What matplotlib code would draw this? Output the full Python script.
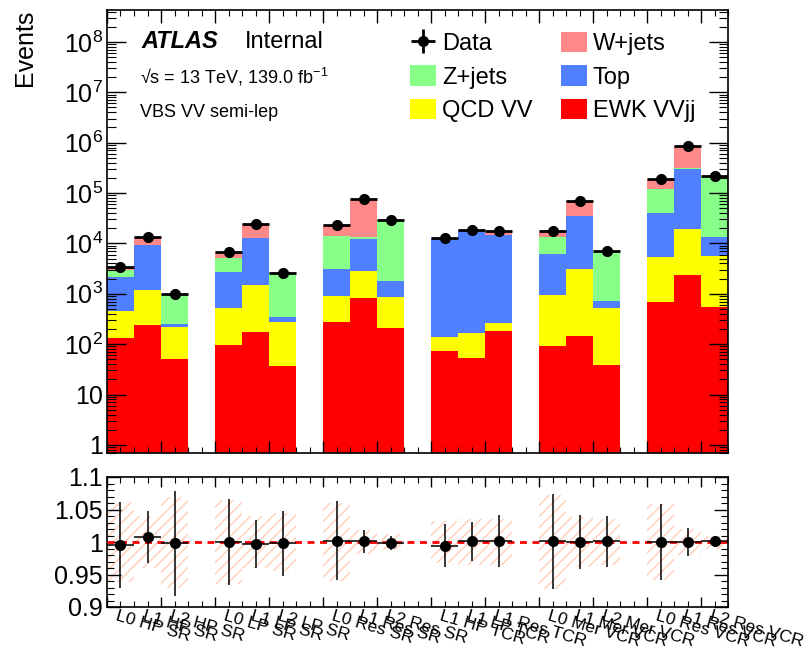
import numpy as np
import matplotlib
matplotlib.use("Agg")
import matplotlib.pyplot as plt
from matplotlib.ticker import FixedLocator, FuncFormatter, MultipleLocator, LogLocator, NullFormatter
from matplotlib.patches import Patch
import matplotlib.transforms as mtransforms

plt.rcParams['font.family'] = ['Liberation Sans', 'DejaVu Sans']
plt.rcParams['mathtext.fontset'] = 'custom'
plt.rcParams['mathtext.rm'] = 'Liberation Sans'
plt.rcParams['mathtext.it'] = 'Liberation Sans:italic'
plt.rcParams['hatch.linewidth'] = 1.0

# bin labels, '' = empty spacer bin
labels = ["L0 HP SR", "L1 HP SR", "L2 HP SR", "",
          "L0 LP SR", "L1 LP SR", "L2 LP SR", "",
          "L0 Res SR", "L1 Res SR", "L2 Res SR", "",
          "L1 HP TCR", "L1 LP TCR", "L1 Res TCR", "",
          "L0 Mer VCR", "L1 Mer VCR", "L2 Mer VCR", "",
          "L0 Res VCR", "L1 Res VCR", "L2 Res VCR"]

# yields per filled bin
ewk_vvjj = [133, 240, 50, 96, 173, 37, 280, 840, 212, 74, 52, 180, 93, 145, 39, 700, 2360, 540]
qcd_vv = [322, 940, 172, 429, 1317, 243, 630, 1990, 663, 67, 112, 88, 857, 2925, 491, 4670, 16640, 5090]
top = [1695, 8120, 28, 2225, 11510, 72, 2190, 9470, 945, 12659, 18036, 14632, 5350, 31930, 200, 34630, 281000, 7970]
z_jets = [820, 100, 750, 2450, 50, 2298, 10900, 1300, 27480, 50, 50, 50, 6900, 100, 6220, 80000, 10000, 201400]
w_jets = [450, 3700, 5, 1700, 11050, 10, 9200, 62400, 200, 50, 50, 2350, 4600, 33900, 10, 70000, 560000, 5000]
data = [3400, 13200, 1000, 6900, 24000, 2640, 23300, 76000, 29400, 12800, 18300, 17300, 17800, 69000, 6950, 190000, 870000, 220000]

ratio = [0.995, 1.007, 0.998, 1.000, 0.997, 0.998, 1.002, 1.001, 0.998,
         0.994, 1.0015, 1.001, 1.001, 1.000, 1.001, 1.000, 1.000, 1.001]
ratio_err = [0.066, 0.040, 0.081, 0.066, 0.037, 0.050, 0.061, 0.018, 0.011,
             0.033, 0.030, 0.040, 0.073, 0.041, 0.039, 0.059, 0.022, 0.009]
band = [0.062, 0.040, 0.070, 0.065, 0.040, 0.045, 0.060, 0.018, 0.012,
        0.033, 0.035, 0.035, 0.073, 0.038, 0.036, 0.058, 0.020, 0.010]

procs = [("EWK VVjj", ewk_vvjj, "#ff0000"),
         ("QCD VV", qcd_vv, "#ffff00"),
         ("Top", top, "#5080ff"),
         ("Z+jets", z_jets, "#88ff88"),
         ("W+jets", w_jets, "#ff8888")]

nbins = len(labels)
filled = [i for i, l in enumerate(labels) if l]
xc = np.array(filled) + 0.5

W, H = 810, 653
fig = plt.figure(figsize=(W / 100, H / 100), dpi=100)
ax = fig.add_axes([107 / W, 1 - 453 / H, 621 / W, 443 / H])
axr = fig.add_axes([107 / W, 1 - 607 / H, 621 / W, 130 / H])

# stacked histogram
bottom = np.zeros(len(filled))
for name, vals, col in procs:
    vals = np.array(vals, dtype=float)
    ax.bar(xc, vals, width=1.0, bottom=bottom, color=col, linewidth=0)
    bottom += vals

data = np.array(data, dtype=float)
dat = ax.errorbar(xc, data, xerr=0.5, yerr=np.sqrt(data), fmt='o', color='black',
                  ms=7, elinewidth=2.0, capsize=0, zorder=5)

ax.set_yscale('log')
ax.set_xlim(0, nbins)
ax.set_ylim(0.69, 4.3e8)
ax.yaxis.set_major_locator(FixedLocator([10.0 ** k for k in range(0, 9)]))


def fmt_log(v, pos):
    k = int(round(np.log10(v)))
    if k == 0:
        return "1"
    if k == 1:
        return "10"
    return r"$10^{%d}$" % k


ax.yaxis.set_major_formatter(FuncFormatter(fmt_log))
ax.yaxis.set_minor_locator(LogLocator(base=10, subs=np.arange(2, 10), numticks=20))
ax.yaxis.set_minor_formatter(NullFormatter())
ax.xaxis.set_major_locator(MultipleLocator(2))
ax.xaxis.set_minor_locator(MultipleLocator(0.5))
ax.tick_params(which='both', direction='in', top=True, right=True, labelbottom=False)
ax.tick_params(axis='y', which='major', length=13.5, width=1, labelsize=18, pad=3)
ax.tick_params(axis='y', which='minor', length=6.5, width=0.8)
ax.tick_params(axis='x', which='major', length=9, width=1)
ax.tick_params(axis='x', which='minor', length=4.5, width=0.8)
ax.set_ylabel("Events", fontsize=18, loc='top')
ax.yaxis.set_label_coords(-0.112, 1.0)

# legend
handles = [dat,
           Patch(facecolor="#88ff88", edgecolor='none'),
           Patch(facecolor="#ffff00", edgecolor='none'),
           Patch(facecolor="#ff8888", edgecolor='none'),
           Patch(facecolor="#5080ff", edgecolor='none'),
           Patch(facecolor="#ff0000", edgecolor='none')]
names = ["Data", "Z+jets", "QCD VV", "W+jets", "Top", "EWK VVjj"]
fig.legend(handles, names, ncol=2, loc='upper left',
           bbox_to_anchor=(410 / W, 1 - 32 / H), frameon=False, fontsize=17,
           borderpad=0, borderaxespad=0, handlelength=1.1, handleheight=0.95,
           handletextpad=0.25, labelspacing=0.43, columnspacing=1.2)

fig.text(141 / W, 1 - 48 / H, "ATLAS", fontsize=17, fontweight='bold', style='italic')
fig.text(245 / W, 1 - 48 / H, "Internal", fontsize=17)
fig.text(140 / W, 1 - 83 / H, "\u221as = 13 TeV, 139.0 fb$^{-1}$", fontsize=13)
fig.text(140 / W, 1 - 117 / H, "VBS VV semi-lep", fontsize=13)

# ratio panel
band = np.array(band)
axr.bar(xc, 2 * band, width=1.0, bottom=1 - band, fill=False, hatch='///',
        edgecolor='#ffcdb8', linewidth=0)
axr.axhline(1.0, color='red', ls=(0, (2.5, 2)), lw=2.0, zorder=3)
axr.errorbar(xc, ratio, xerr=0.5, yerr=ratio_err, fmt='o', color='black',
             ms=7, elinewidth=1.1, capsize=0, zorder=5)
axr.set_xlim(0, nbins)
axr.set_ylim(0.9, 1.1)
axr.yaxis.set_major_locator(FixedLocator([0.9, 0.95, 1.0, 1.05, 1.1]))
axr.yaxis.set_major_formatter(FuncFormatter(lambda v, p: "%g" % round(v, 2)))
axr.yaxis.set_minor_locator(MultipleLocator(0.01))
axr.xaxis.set_major_locator(MultipleLocator(2))
axr.xaxis.set_minor_locator(MultipleLocator(0.5))
axr.tick_params(which='both', direction='in', top=True, right=True, labelbottom=False)
axr.tick_params(axis='y', which='major', length=10, width=1, labelsize=18, pad=3)
axr.tick_params(axis='y', which='minor', length=5, width=0.8)
axr.tick_params(axis='x', which='major', length=7, width=1)
axr.tick_params(axis='x', which='minor', length=4, width=0.8)

trans = mtransforms.blended_transform_factory(axr.transData, axr.transAxes)
for i in filled:
    axr.text(i + 0.42, -0.01, labels[i], transform=trans, rotation=-16,
             rotation_mode='anchor', ha='left', va='top', fontsize=12.5)

for a in (ax, axr):
    for s in a.spines.values():
        s.set_linewidth(1.2)

fig.savefig("out.png", dpi=100)
